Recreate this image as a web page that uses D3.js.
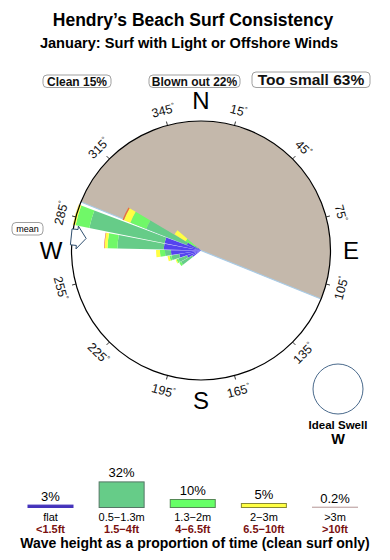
<!DOCTYPE html>
<html>
<head>
<meta charset="utf-8">
<script src="https://cdn.jsdelivr.net/npm/d3@7"></script>
<style>
    body { margin: 0; background: #fff; }
    svg { display: block; font-family: "Liberation Sans", Arial, sans-serif; }
</style>
</head>
<body>
<div id="chart"></div>
<script>
const title = "Hendry’s Beach Surf Consistency";
const subtitle = "January: Surf with Light or Offshore Winds";

const summaryLabels = ["Clean 15%", "Blown out 22%", "Too small 63%"];

// direction bins (degrees, wave coming from) and % of time per height class
const binDirs = [236, 246, 256, 266, 276, 286, 296, 306];
const flatPct = [0.13, 0.29, 0.63, 1.17, 1.8, 1.8, 0.3, 0.02];
const smallPct = [0.56, 0.46, 0.54, 0.52, 7.3, 15.1, 4.2, 0.05];
const midPct = [0.12, 0.13, 0.16, 0.5, 2.3, 4.4, 3.0, 0.35];
const bigPct = [0, 0.07, 0.17, 0.44, 0.7, 0.9, 1.45, 0.83];
const hugePct = [0, 0, 0, 0, 0.15, 0.05, 0.3, 0];

const blownOutFrom = 292;
const blownOutTo = 112;
const meanDir = 276;

const degreeTicks = [15, 45, 75, 105, 135, 165, 195, 225, 255, 285, 315, 345];
const cardinals = [["N", 0], ["E", 90], ["S", 180], ["W", 270]];

const legendLabels = ["flat", "0.5−1.3m", "1.3−2m", "2−3m", ">3m"];
const legendFeet = ["<1.5ft", "1.5−4ft", "4−6.5ft", "6.5−10ft", ">10ft"];
const legendPct = [3, 32, 10, 5, 0.2];
const legendPctText = ["3%", "32%", "10%", "5%", "0.2%"];

const roseFill = ["#5544ee", "#66cc88", "#70f868", "#ffff44", "#e8703e"];
const legendFill = ["#4433bb", "#66cc88", "#66ff66", "#ffff44", "#c9b3b3"];
const legendStroke = ["#4433bb", "#557766", "#558855", "#888833", "#c9b3b3"];

const width = 390;
const height = 560;
const cx = 201;
const cy = 250.5;
const R = 129.5;
const rad = (deg) => deg * Math.PI / 180;

const svg = d3.select("#chart").append("svg")
    .attr("width", width)
    .attr("height", height)
    .attr("viewBox", [0, 0, width, height]);

svg.append("text")
    .attr("x", 193).attr("y", 26)
    .attr("text-anchor", "middle")
    .attr("font-size", 17.5).attr("font-weight", 700)
    .text(title);

svg.append("text")
    .attr("x", 189).attr("y", 48)
    .attr("text-anchor", "middle")
    .attr("font-size", 14.6).attr("font-weight", 700)
    .text(subtitle);

// summary boxes
const summaryBoxes = [
    { x: 43, w: 68, h: 12.5, size: 12 },
    { x: 149, w: 91, h: 12.5, size: 12 },
    { x: 252, w: 118, h: 15.5, size: 15.5 }
];
summaryBoxes.forEach((b, i) => {
    const g = svg.append("g");
    g.append("rect")
        .attr("x", b.x).attr("y", 87.5 - b.h)
        .attr("width", b.w).attr("height", b.h)
        .attr("rx", 4)
        .attr("fill", "#fff")
        .attr("stroke", "#888")
        .attr("stroke-width", 0.8);
    g.append("text")
        .attr("x", b.x + b.w / 2).attr("y", 87.5 - b.h / 2)
        .attr("dy", "0.36em")
        .attr("text-anchor", "middle")
        .attr("font-size", b.size).attr("font-weight", 700)
        .attr("fill", "#111")
        .text(summaryLabels[i]);
});

const rose = svg.append("g").attr("transform", `translate(${cx},${cy})`);

// blown out sector
rose.append("path")
    .attr("d", d3.arc()({
        innerRadius: 0,
        outerRadius: R,
        startAngle: rad(blownOutFrom),
        endAngle: rad(blownOutTo + 360)
    }))
    .attr("fill", "#c4b8ab");

// coast line
const lineX = (deg, r) => r * Math.sin(rad(deg));
const lineY = (deg, r) => -r * Math.cos(rad(deg));
rose.append("line")
    .attr("x1", lineX(blownOutFrom, R)).attr("y1", lineY(blownOutFrom, R))
    .attr("x2", lineX(blownOutTo, R)).attr("y2", lineY(blownOutTo, R))
    .attr("stroke", "#a9cbe6")
    .attr("stroke-width", 1.2);

// rose wedges
const rScale = d3.scaleSqrt().domain([0, 22]).range([0, 130]);
const classes = [flatPct, smallPct, midPct, bigPct, hugePct];
const segments = [];
binDirs.forEach((dir, i) => {
    let cum = 0;
    classes.forEach((arr, k) => {
        const v = arr[i];
        if (v > 0) {
            segments.push({ dir, k, r0: rScale(cum), r1: rScale(cum + v) });
        }
        cum += v;
    });
});

const wedgeArc = d3.arc()
    .innerRadius((d) => d.r0)
    .outerRadius((d) => d.r1)
    .startAngle((d) => rad(d.dir - 4.6))
    .endAngle((d) => rad(d.dir + 4.6));

rose.append("g")
    .selectAll("path")
    .data(segments)
    .join("path")
    .attr("d", wedgeArc)
    .attr("fill", (d) => roseFill[d.k]);

// outer circle
rose.append("circle")
    .attr("r", R)
    .attr("fill", "none")
    .attr("stroke", "#000")
    .attr("stroke-width", 1.2);

// ticks and degree labels
rose.append("g")
    .selectAll("line")
    .data(degreeTicks)
    .join("line")
    .attr("x1", (d) => lineX(d, R))
    .attr("y1", (d) => lineY(d, R))
    .attr("x2", (d) => lineX(d, R + 4))
    .attr("y2", (d) => lineY(d, R + 4))
    .attr("stroke", "#000")
    .attr("stroke-width", 0.8);

const degLabels = rose.append("g")
    .selectAll("text")
    .data(degreeTicks)
    .join("text")
    .attr("transform", (d) => {
        const rot = (d > 90 && d < 270) ? d - 180 : (d > 180 ? d - 360 : d);
        return `translate(${lineX(d, 145)},${lineY(d, 145)}) rotate(${rot})`;
    })
    .attr("text-anchor", "middle")
    .attr("dy", "0.36em")
    .attr("font-size", 12.5)
    .attr("fill", "#111");
degLabels.append("tspan").text((d) => d);
degLabels.append("tspan")
    .attr("font-size", 7.5)
    .attr("dy", "-0.6em")
    .text("°");

rose.append("g")
    .selectAll("text")
    .data(cardinals)
    .join("text")
    .attr("x", (d) => lineX(d[1], 150))
    .attr("y", (d) => lineY(d[1], 150))
    .attr("dy", "0.36em")
    .attr("text-anchor", "middle")
    .attr("font-size", 24)
    .attr("fill", "#000")
    .text((d) => d[0]);

// mean direction arrow
const toXY = (deg, r, off) => {
    const a = rad(deg);
    return [r * Math.sin(a) + off * Math.cos(a), -r * Math.cos(a) + off * Math.sin(a)];
};
const arrowPts = [
    [R + 1, -8], [R - 5, -8], [R - 5, -11.5], [R - 14, 0],
    [R - 5, 11.5], [R - 5, 8], [R + 1, 8]
].map(([r, off]) => toXY(meanDir, r, off));
rose.append("path")
    .attr("d", d3.line()(arrowPts) + "Z")
    .attr("fill", "#fff")
    .attr("stroke", "#2f4f6f")
    .attr("stroke-width", 1);

svg.append("rect")
    .attr("x", 12).attr("y", 222.5)
    .attr("width", 31).attr("height", 12.5)
    .attr("rx", 4)
    .attr("fill", "#fff")
    .attr("stroke", "#888")
    .attr("stroke-width", 0.8);
svg.append("text")
    .attr("x", 27.5).attr("y", 229)
    .attr("dy", "0.36em")
    .attr("text-anchor", "middle")
    .attr("font-size", 9)
    .text("mean");

// ideal swell
svg.append("circle")
    .attr("cx", 338).attr("cy", 389).attr("r", 25)
    .attr("fill", "none")
    .attr("stroke", "#4a6a8c")
    .attr("stroke-width", 1);
svg.append("text")
    .attr("x", 338).attr("y", 429)
    .attr("text-anchor", "middle")
    .attr("font-size", 11.5).attr("font-weight", 700)
    .text("Ideal Swell");
svg.append("text")
    .attr("x", 338).attr("y", 443.5)
    .attr("text-anchor", "middle")
    .attr("font-size", 14.5).attr("font-weight", 700)
    .text("W");

// legend
const legendX = d3.scalePoint()
    .domain(legendLabels)
    .range([50.5, 335]);
const hScale = d3.scaleLinear().domain([0, 32]).range([0, 25.6]);
const baseY = 507.5;
const boxW = 45;

const items = svg.append("g")
    .selectAll("g")
    .data(legendLabels)
    .join("g")
    .attr("transform", (d) => `translate(${legendX(d)},0)`);

items.append("rect")
    .attr("x", -boxW / 2)
    .attr("y", (d, i) => baseY - Math.max(hScale(legendPct[i]), 0.4))
    .attr("width", boxW)
    .attr("height", (d, i) => Math.max(hScale(legendPct[i]), 0.4))
    .attr("fill", (d, i) => legendFill[i])
    .attr("stroke", (d, i) => legendStroke[i])
    .attr("stroke-width", 1);

items.append("text")
    .attr("y", (d, i) => baseY - hScale(legendPct[i]) - 4.5)
    .attr("text-anchor", "middle")
    .attr("font-size", 13)
    .text((d, i) => legendPctText[i]);

items.append("text")
    .attr("y", 520.5)
    .attr("text-anchor", "middle")
    .attr("font-size", 11)
    .text((d) => d);

items.append("text")
    .attr("y", 533)
    .attr("text-anchor", "middle")
    .attr("font-size", 11)
    .attr("font-weight", 700)
    .attr("fill", "#7a1010")
    .text((d, i) => legendFeet[i]);

svg.append("text")
    .attr("x", 195).attr("y", 548)
    .attr("text-anchor", "middle")
    .attr("font-size", 14).attr("font-weight", 700)
    .text("Wave height as a proportion of time (clean surf only)");
</script>
</body>
</html>
